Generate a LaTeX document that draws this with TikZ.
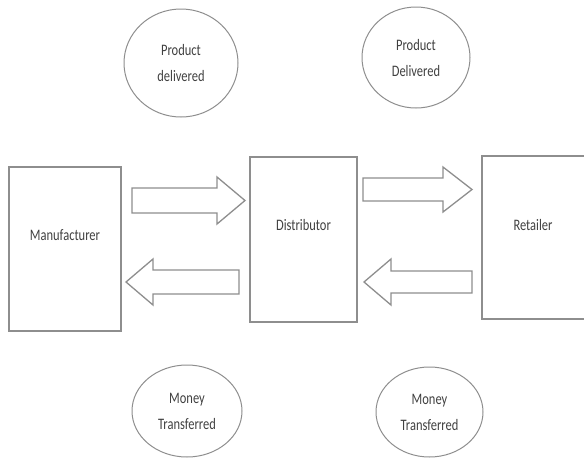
\documentclass[tikz,border=0pt]{standalone}
\usepackage{fontspec}
\setmainfont[FakeStretch=0.78]{Carlito}
\usetikzlibrary{shapes.geometric}
\definecolor{linegray}{HTML}{8E8E8E}
\definecolor{txtgray}{HTML}{404040}
\begin{document}
\begin{tikzpicture}[x=1pt,y=-1pt,
  box/.style={draw=linegray,line width=1.4pt},
  oval/.style={draw=linegray,line width=1pt,ellipse,inner sep=0pt,
     font=\fontsize{16}{26}\selectfont,text=txtgray,align=center},
  lbl/.style={font=\fontsize{16}{20}\selectfont,text=txtgray},
  blockarrow/.style={draw=linegray,line width=1.3pt,line join=miter,fill=white}]
\useasboundingbox (0,0) rectangle (584,459);
\clip (0,0) rectangle (584,459);
% boxes
\draw[box] (9,167) rectangle (121,331);
\node[lbl] (man) at (65,235) {Manufacturer};
\draw[box] (250,157) rectangle (357,322);
\node[lbl] (dist) at (303.5,225) {Distributor};
\draw[box] (482,156) rectangle (586,319);
\node[lbl] (ret) at (533,225) {Retailer};
% ellipses
\node[oval,minimum width=114pt,minimum height=108pt] (pd1) at (181,63) {Product\\delivered};
\node[oval,minimum width=108pt,minimum height=101pt] (pd2) at (416,57.5) {Product\\Delivered};
\node[oval,minimum width=110pt,minimum height=92pt] (mt1) at (187,411) {Money\\Transferred};
\node[oval,minimum width=107pt,minimum height=90pt] (mt2) at (429.5,412) {Money\\Transferred};
% block arrows
\draw[blockarrow] (132,188) -- (217,188) -- (217,177) -- (245,200.5) -- (217,224) -- (217,213) -- (132,213) -- cycle;
\draw[blockarrow] (239,270) -- (153,270) -- (153,259) -- (126,282) -- (153,305) -- (153,294) -- (239,294) -- cycle;
\draw[blockarrow] (363,178) -- (443,178) -- (443,167) -- (472,189.5) -- (443,212) -- (443,201) -- (363,201) -- cycle;
\draw[blockarrow] (472,271) -- (391,271) -- (391,259) -- (364,282) -- (391,305) -- (391,293) -- (472,293) -- cycle;
\end{tikzpicture}
\end{document}
